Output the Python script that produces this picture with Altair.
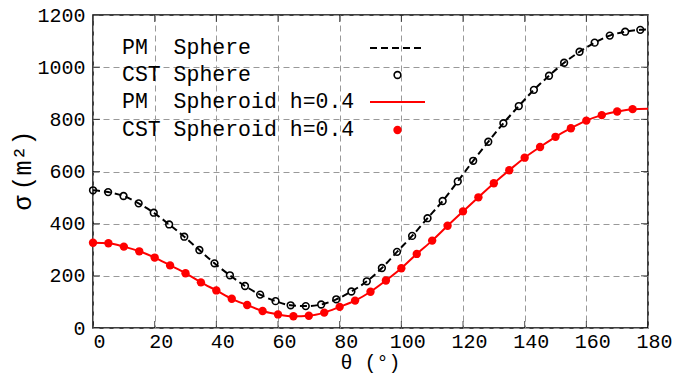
import altair as alt
import pandas as pd

# ---- data ----
theta_cst_sphere = [0, 4.9, 9.9, 14.8, 19.7, 24.7, 29.6, 34.5, 39.4, 44.4, 49.3, 54.2,
                    59.2, 64.1, 69.0, 74.0, 78.9, 83.8, 88.8, 93.7, 98.6, 103.5, 108.5,
                    113.4, 118.3, 123.3, 128.2, 133.1, 138.1, 143.0, 147.9, 152.8, 157.8,
                    162.7, 167.6, 172.6, 177.5]
sigma_cst_sphere = [528, 521, 506, 478, 442, 397, 350, 299, 248, 202, 161, 128,
                    103, 87, 84, 90, 110, 140, 179, 230, 292, 353, 421,
                    487, 562, 641, 714, 785, 851, 913, 967, 1017, 1059,
                    1094, 1121, 1136, 1143]

theta_pm_sphere = theta_cst_sphere + [180]
sigma_pm_sphere = sigma_cst_sphere + [1145]

theta_cst_spheroid = [0, 5, 10, 15, 20, 25, 30, 35, 40, 45, 50, 55, 60, 65, 70, 75, 80, 85,
                      90, 95, 100, 105, 110, 115, 120, 125, 130, 135, 140, 145, 150, 155,
                      160, 165, 170, 175]
sigma_cst_spheroid = [327, 325, 312, 294, 270, 240, 210, 175, 144, 112, 88, 65, 52, 45, 47,
                      59, 81, 105, 139, 182, 229, 284, 335, 392, 447, 501, 555, 605, 653,
                      694, 733, 766, 795, 816, 830, 839]

theta_pm_spheroid = theta_cst_spheroid + [180]
sigma_pm_spheroid = sigma_cst_spheroid + [841]

x_ticks = [0, 20, 40, 60, 80, 100, 120, 140, 160, 180]
y_ticks = [0, 200, 400, 600, 800, 1000, 1200]

legend_labels = ["PM\u00a0\u00a0Sphere", "CST\u00a0Sphere",
                 "PM\u00a0\u00a0Spheroid\u00a0h=0.4", "CST\u00a0Spheroid\u00a0h=0.4"]

# ---- frames ----
df_pm_sph = pd.DataFrame({"theta": theta_pm_sphere, "sigma": sigma_pm_sphere})
df_cst_sph = pd.DataFrame({"theta": theta_cst_sphere, "sigma": sigma_cst_sphere})
df_pm_spd = pd.DataFrame({"theta": theta_pm_spheroid, "sigma": sigma_pm_spheroid})
df_cst_spd = pd.DataFrame({"theta": theta_cst_spheroid, "sigma": sigma_cst_spheroid})
df_ytick = pd.DataFrame({"theta": [0] * len(y_ticks) + [180] * len(y_ticks),
                         "sigma": y_ticks + y_ticks})
df_xtick = pd.DataFrame({"theta": x_ticks + x_ticks,
                         "sigma": [0] * len(x_ticks) + [1200] * len(x_ticks)})
df_one = pd.DataFrame({"k": [0]})

MONO = "Liberation Mono"
GRID = dict(grid=True, gridDash=[6, 4], gridColor="#999999", gridWidth=1)

x_scale = alt.Scale(domain=[0, 180], nice=False, zero=False)
y_scale = alt.Scale(domain=[0, 1200], nice=False)

x_axis = alt.Axis(values=x_ticks, title="θ (°)", ticks=False, domain=False, format="d",
                  labelFont=MONO, labelFontSize=20, labelColor="black",
                  labelPadding=3, labelOffset=6, labelFlush=False,
                  titleFont=MONO, titleFontSize=20, titleColor="black",
                  titleFontWeight="normal", titleX=277, titleY=34,
                  titleAlign="center", titleBaseline="middle", **GRID)
y_axis = alt.Axis(values=y_ticks, title="σ\u2009(m²)", ticks=False, domain=False, format="d",
                  labelFont=MONO, labelFontSize=20, labelColor="black",
                  labelPadding=8, labelFlush=False,
                  titleFont=MONO, titleFontSize=25, titleColor="black",
                  titleFontWeight="normal", titleX=-71, titleY=155,
                  titleAlign="center", titleBaseline="middle", **GRID)

X = alt.X("theta:Q", scale=x_scale, axis=x_axis)
Y = alt.Y("sigma:Q", scale=y_scale, axis=y_axis)

pm_sph = alt.Chart(df_pm_sph).mark_line(
    color="black", strokeWidth=2, strokeDash=[7, 4], interpolate="monotone"
).encode(x=X, y=Y)

pm_spd = alt.Chart(df_pm_spd).mark_line(
    color="red", strokeWidth=2, interpolate="monotone"
).encode(x=X, y=Y)

cst_sph = alt.Chart(df_cst_sph).mark_point(
    shape="circle", filled=False, color="black", size=45, strokeWidth=1.6, opacity=1
).encode(x=X, y=Y)

cst_spd = alt.Chart(df_cst_spd).mark_circle(
    color="red", size=70, opacity=1
).encode(x=X, y=Y)

ytick = alt.Chart(df_ytick).mark_tick(
    orient="horizontal", size=14, thickness=1, color="black", clip=True
).encode(x=X, y=Y)
xtick = alt.Chart(df_xtick).mark_tick(
    orient="vertical", size=14, thickness=1, color="black", clip=True
).encode(x=X, y=Y)

# ---- legend (inside plot, text then symbol) ----
rows = [33, 60, 87, 115]
legend_layers = []
for lab, ry in zip(legend_labels, rows):
    legend_layers.append(
        alt.Chart(df_one).mark_text(
            align="left", baseline="middle", font=MONO, fontSize=21.5, color="black"
        ).encode(x=alt.value(29), y=alt.value(ry), text=alt.value(lab))
    )

leg_line1 = alt.Chart(df_one).mark_rule(
    color="black", strokeWidth=2, strokeDash=[7, 4]
).encode(x=alt.value(277), x2=alt.value(332), y=alt.value(rows[0]))
leg_pt1 = alt.Chart(df_one).mark_point(
    shape="circle", filled=False, color="black", size=45, strokeWidth=1.6, opacity=1
).encode(x=alt.value(304.5), y=alt.value(rows[1]))
leg_line2 = alt.Chart(df_one).mark_rule(
    color="red", strokeWidth=2
).encode(x=alt.value(277), x2=alt.value(332), y=alt.value(rows[2]))
leg_pt2 = alt.Chart(df_one).mark_circle(
    color="red", size=70, opacity=1
).encode(x=alt.value(304.5), y=alt.value(rows[3]))

chart = alt.layer(
    pm_sph, cst_sph, pm_spd, cst_spd, ytick, xtick,
    *legend_layers, leg_line1, leg_pt1, leg_line2, leg_pt2
).properties(
    width=555, height=313,
    padding={"left": 93, "top": 15, "right": 26, "bottom": 47},
    autosize=alt.AutoSizeParams(type="none"),
    background="white",
).configure_view(
    stroke="black", strokeWidth=1.5
)

chart.save("out.html", embed_options={"renderer": "svg", "actions": False})
